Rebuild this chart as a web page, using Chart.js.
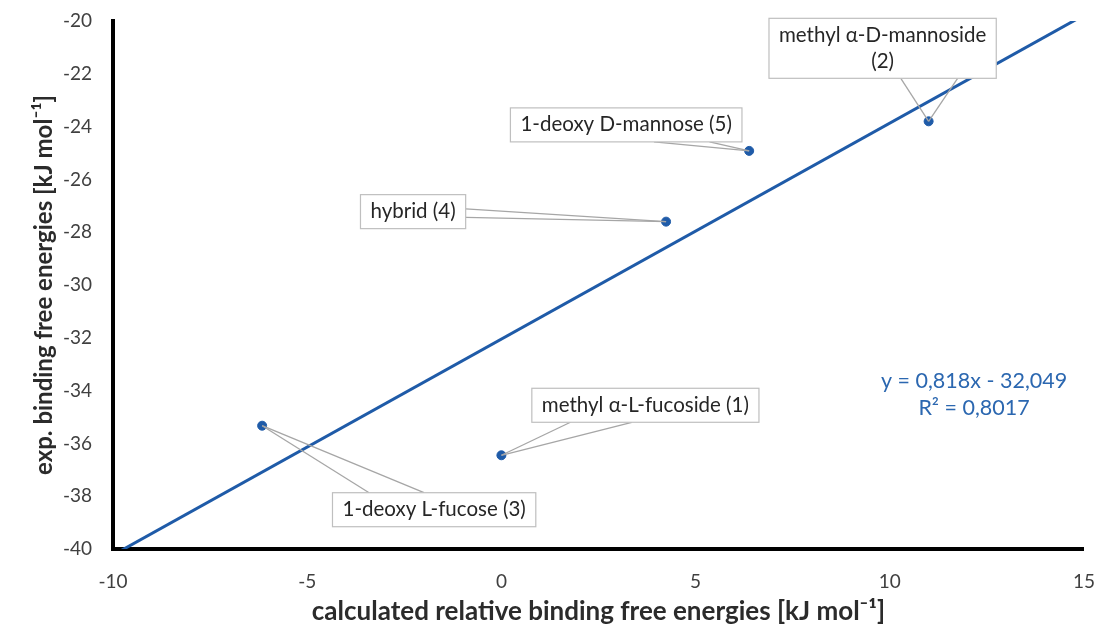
<!DOCTYPE html>
<html>
<head>
<meta charset="utf-8">
<script src="https://cdn.jsdelivr.net/npm/chart.js@4"></script>
<style>
  body { margin: 0; background: #fff; }
  #wrap { width: 1116px; height: 630px; }
</style>
</head>
<body>
<div id="wrap"><canvas id="chart" width="1116" height="630"></canvas></div>
<script>
// compounds (numbered as in the paper)
const names = ['methyl α-L-fucoside (1)', 'methyl α-D-mannoside\n(2)', '1-deoxy L-fucose (3)', 'hybrid (4)', '1-deoxy D-mannose (5)'];
const calcValues = [0.0, 11.0, -6.16, 4.24, 6.38];
const expValues = [-36.45, -23.8, -35.33, -27.6, -24.92];

// linear trend as printed on the chart
const slope = 0.818;
const intercept = -32.049;
const trendX = [-10, 15];
const eqLines = ['y = 0,818x - 32,049', 'R² = 0,8017'];

const xTicks = [-10, -5, 0, 5, 10, 15];
const yTicks = [-40, -38, -36, -34, -32, -30, -28, -26, -24, -22, -20];

const blue = '#1f5ba8';
const font = 'Lato, "Open Sans", sans-serif';

// callout placement: box centre offset from the point (px), side the leaders leave from, and where on that side
const callouts = [
  { dx: 144, dy: -50, side: 'bottom', at: [0.17, 0.44] },
  { dx: -46, dy: -73, side: 'bottom', at: [0.58, 0.83] },
  { dx: 172, dy: 84, side: 'top', at: [0.18, 0.45] },
  { dx: -253, dy: -10, side: 'right', at: [0.42, 0.67] },
  { dx: -123, dy: -26, side: 'bottom', at: [0.62, 0.86] }
];

const calloutPlugin = {
  id: 'callouts',
  afterDatasetsDraw(chart) {
    const ctx = chart.ctx;
    const meta = chart.getDatasetMeta(1);
    ctx.save();
    ctx.font = '20.5px ' + font;
    ctx.textAlign = 'center';
    ctx.textBaseline = 'middle';
    meta.data.forEach((pt, i) => {
      const c = callouts[i];
      const lines = names[i].split('\n');
      const tw = Math.max(...lines.map(l => ctx.measureText(l).width));
      const lh = 26;
      const w = tw + 20;
      const h = lines.length * lh + 8;
      const cx = pt.x + c.dx, cy = pt.y + c.dy;
      const left = cx - w / 2, top = cy - h / 2;
      // leader lines
      ctx.strokeStyle = '#a6a6a6';
      ctx.lineWidth = 1.3;
      c.at.forEach(f => {
        let sx, sy;
        if (c.side === 'bottom') { sx = left + f * w; sy = top + h; }
        else if (c.side === 'top') { sx = left + f * w; sy = top; }
        else { sx = left + w; sy = top + f * h; }
        ctx.beginPath();
        ctx.moveTo(sx, sy);
        ctx.lineTo(pt.x, pt.y);
        ctx.stroke();
      });
      ctx.fillStyle = '#fff';
      ctx.fillRect(left, top, w, h);
      ctx.strokeStyle = '#bfbfbf';
      ctx.lineWidth = 1.2;
      ctx.strokeRect(left, top, w, h);
      ctx.fillStyle = '#262626';
      lines.forEach((l, k) => {
        ctx.fillText(l, cx, top + 4 + lh / 2 + k * lh);
      });
    });
    // regression equation
    ctx.fillStyle = '#2b67b0';
    ctx.font = '21.5px ' + font;
    const ex = chart.scales.x.getPixelForValue(12.17);
    const ey = chart.scales.y.getPixelForValue(-33.64);
    eqLines.forEach((l, k) => ctx.fillText(l, ex, ey + k * 27));
    ctx.restore();
  }
};

new Chart(document.getElementById('chart'), {
  type: 'scatter',
  data: {
    datasets: [
      {
        type: 'line',
        data: trendX.map(x => ({ x: x, y: slope * x + intercept })),
        borderColor: blue,
        borderWidth: 3,
        pointRadius: 0,
        fill: false
      },
      {
        data: calcValues.map((x, i) => ({ x: x, y: expValues[i] })),
        backgroundColor: blue,
        borderColor: blue,
        pointRadius: 4.5,
        pointHoverRadius: 4.5
      }
    ]
  },
  options: {
    responsive: false,
    animation: false,
    layout: { padding: { top: 21, right: 31, left: 0, bottom: 0 } },
    plugins: { legend: { display: false }, tooltip: { enabled: false } },
    scales: {
      x: {
        type: 'linear',
        min: -10,
        max: 15,
        afterBuildTicks: axis => { axis.ticks = xTicks.map(v => ({ value: v })); },
        afterFit: axis => { axis.height = 81; },
        grid: { display: false, drawTicks: false },
        border: { color: '#000', width: 4 },
        ticks: { color: '#404040', font: { family: font, size: 19 }, padding: 21 },
        title: {
          display: true,
          text: 'calculated relative binding free energies [kJ mol⁻¹]',
          color: '#2b2b2b',
          font: { family: font, size: 26, weight: 'bold' },
          padding: { bottom: 3 }
        }
      },
      y: {
        min: -40,
        max: -20,
        afterBuildTicks: axis => { axis.ticks = yTicks.map(v => ({ value: v })); },
        afterFit: axis => { axis.width = 113; axis.paddingTop = 0; axis.paddingBottom = 0; },
        grid: { display: false, drawTicks: false },
        border: { color: '#000', width: 4 },
        ticks: { color: '#404040', font: { family: font, size: 19 }, padding: 21 },
        title: {
          display: true,
          text: 'exp. binding free energies [kJ mol⁻¹]',
          color: '#2b2b2b',
          font: { family: font, size: 24, weight: 'bold' },
          padding: { top: 30 }
        }
      }
    }
  },
  plugins: [calloutPlugin]
});
</script>
</body>
</html>
